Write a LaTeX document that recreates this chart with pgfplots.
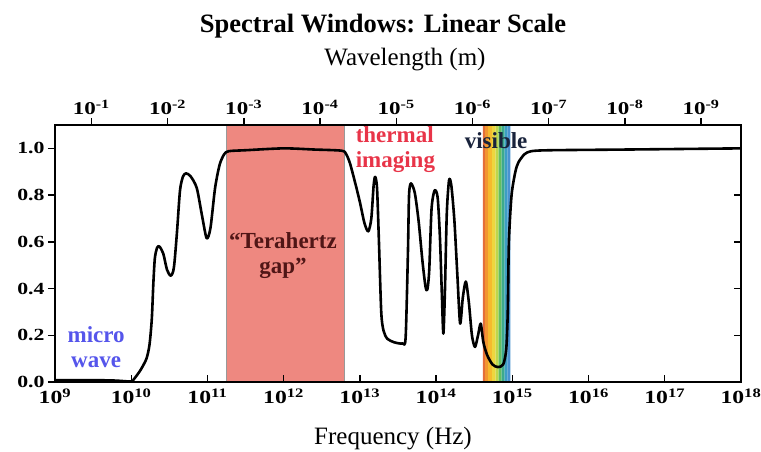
\documentclass[border=0pt]{standalone}
\usepackage{pgfplots}
\pgfplotsset{compat=1.18}
\usepackage{graphicx}
\usepackage{fontspec}
\setmainfont{Liberation Serif}
\definecolor{thz}{RGB}{238,136,128}
\definecolor{mwblue}{RGB}{85,85,235}
\definecolor{thzlab}{RGB}{80,22,22}
\definecolor{thred}{RGB}{232,52,72}
\definecolor{visnavy}{RGB}{25,35,60}
\definecolor{v1}{RGB}{228,110,58}
\definecolor{v2}{RGB}{242,150,48}
\definecolor{v3}{RGB}{245,186,46}
\definecolor{v4}{RGB}{238,214,62}
\definecolor{v5}{RGB}{190,214,76}
\definecolor{v6}{RGB}{100,190,96}
\definecolor{v7}{RGB}{60,170,140}
\definecolor{v8}{RGB}{60,158,196}
\definecolor{v9}{RGB}{74,146,208}
\newcommand\ticklab[1]{\scalebox{1.28}[1]{\bfseries #1}}
\newcommand\annfont{\fontsize{23bp}{25bp}\selectfont\rmfamily\bfseries}
\begin{document}
\begin{tikzpicture}
\useasboundingbox (-55bp,-70bp) rectangle (706bp,382bp);
\begin{axis}[
  scale only axis, width=686bp, height=257bp,
  xmin=9, xmax=18, ymin=0, ymax=1.1,
  axis on top,
  axis line style={line width=1.4bp},
  tick style={line width=1.4bp, black},
  major tick length=7bp,
  tick align=inside,
  xtick pos=left, ytick pos=right,
  xtick={9,...,18},
  xticklabels={\ticklab{10\textsuperscript{9}},\ticklab{10\textsuperscript{10}},\ticklab{10\textsuperscript{11}},\ticklab{10\textsuperscript{12}},\ticklab{10\textsuperscript{13}},\ticklab{10\textsuperscript{14}},\ticklab{10\textsuperscript{15}},\ticklab{10\textsuperscript{16}},\ticklab{10\textsuperscript{17}},\ticklab{10\textsuperscript{18}}},
  xticklabel style={font=\fontsize{18.5bp}{20bp}\selectfont, yshift=-3bp},
  ytick={0,0.2,0.4,0.6,0.8,1.0},
  yticklabels={},
  clip=false,
]
% Terahertz gap
\addplot[fill=thz, draw=gray!80, line width=0.8bp] coordinates {(11.244,0) (11.244,1.1) (12.797,1.1) (12.797,0)} \closedcycle;
% visible band strips
\addplot[fill=v1, draw=none] coordinates {(14.613,0) (14.613,1.1) (14.645,1.1) (14.645,0)} \closedcycle;
\addplot[fill=v2, draw=none] coordinates {(14.644,0) (14.644,1.1) (14.683,1.1) (14.683,0)} \closedcycle;
\addplot[fill=v3, draw=none] coordinates {(14.682,0) (14.682,1.1) (14.736,1.1) (14.736,0)} \closedcycle;
\addplot[fill=v4, draw=none] coordinates {(14.735,0) (14.735,1.1) (14.782,1.1) (14.782,0)} \closedcycle;
\addplot[fill=v5, draw=none] coordinates {(14.781,0) (14.781,1.1) (14.821,1.1) (14.821,0)} \closedcycle;
\addplot[fill=v6, draw=none] coordinates {(14.820,0) (14.820,1.1) (14.861,1.1) (14.861,0)} \closedcycle;
\addplot[fill=v7, draw=none] coordinates {(14.860,0) (14.860,1.1) (14.900,1.1) (14.900,0)} \closedcycle;
\addplot[fill=v8, draw=none] coordinates {(14.899,0) (14.899,1.1) (14.939,1.1) (14.939,0)} \closedcycle;
\addplot[fill=v9, draw=none] coordinates {(14.938,0) (14.938,1.1) (14.975,1.1) (14.975,0)} \closedcycle;
% transmission curve (x = log10 of frequency in Hz)
\addplot[black, line width=2.6bp, smooth, tension=0.45, line join=round] coordinates {
(9.0,0.008) (9.5,0.008) (9.8,0.006) (10.0,0.002) (10.03,0.01) (10.12,0.05)
(10.2,0.10) (10.24,0.16) (10.27,0.27) (10.29,0.42) (10.31,0.53) (10.34,0.575)
(10.37,0.58) (10.42,0.55) (10.47,0.48) (10.52,0.455) (10.56,0.49) (10.60,0.64)
(10.64,0.82) (10.68,0.88) (10.72,0.893) (10.78,0.88) (10.86,0.83) (10.93,0.71)
(10.99,0.615) (11.04,0.66) (11.10,0.83) (11.16,0.93) (11.22,0.975) (11.28,0.988)
(11.5,0.992) (12.0,1.0) (12.4,0.995) (12.76,0.99) (12.82,0.975) (12.87,0.936)
(12.94,0.85) (13.0,0.77) (13.06,0.68) (13.11,0.645) (13.15,0.70) (13.18,0.84)
(13.20,0.878) (13.225,0.83) (13.25,0.60) (13.28,0.30) (13.31,0.22) (13.36,0.185)
(13.45,0.17) (13.56,0.165) (13.60,0.19) (13.63,0.55) (13.645,0.80) (13.67,0.85)
(13.72,0.81) (13.77,0.69) (13.82,0.52) (13.86,0.41) (13.885,0.395) (13.91,0.48)
(13.94,0.74) (13.98,0.82) (14.02,0.79) (14.05,0.62) (14.075,0.38) (14.095,0.207)
(14.115,0.38) (14.14,0.72) (14.17,0.864) (14.2,0.84) (14.24,0.69) (14.28,0.45)
(14.315,0.25) (14.35,0.36) (14.39,0.43) (14.43,0.34) (14.47,0.20) (14.51,0.15)
(14.55,0.20) (14.585,0.25) (14.62,0.17) (14.67,0.115) (14.74,0.075) (14.81,0.064)
(14.88,0.075) (14.92,0.14) (14.94,0.30) (14.955,0.60) (14.99,0.80) (15.04,0.90)
(15.08,0.94) (15.16,0.975) (15.25,0.988) (15.5,0.992) (16.5,0.995) (18.0,1.0)
};
\node[text=mwblue, align=center, font=\annfont] at (axis cs:9.54,0.148) {micro\\wave};
\node[text=thzlab, align=center, font=\annfont] at (axis cs:11.99,0.543) {“Terahertz\\gap”};
\node[text=thred, align=left, anchor=west, font=\annfont] at (axis cs:12.90,0.995) {thermal\\imaging};
\node[text=visnavy, font=\annfont] at (axis cs:14.787,1.035) {visible};
\end{axis}
\begin{axis}[
  scale only axis, width=686bp, height=257bp,
  xmin=9, xmax=18, ymin=0, ymax=1.1,
  axis line style={line width=1.4bp},
  tick style={line width=1.4bp, black},
  major tick length=7bp,
  tick align=outside,
  xtick pos=right, xticklabel pos=right,
  ytick pos=left, yticklabel pos=left,
  xtick={9.477,10.477,11.477,12.477,13.477,14.477,15.477,16.477,17.477},
  xticklabels={\ticklab{10\textsuperscript{-1}},\ticklab{10\textsuperscript{-2}},\ticklab{10\textsuperscript{-3}},\ticklab{10\textsuperscript{-4}},\ticklab{10\textsuperscript{-5}},\ticklab{10\textsuperscript{-6}},\ticklab{10\textsuperscript{-7}},\ticklab{10\textsuperscript{-8}},\ticklab{10\textsuperscript{-9}}},
  xticklabel style={font=\fontsize{18bp}{20bp}\selectfont},
  ytick={0,0.2,0.4,0.6,0.8,1.0},
  yticklabels={\ticklab{0.0},\ticklab{0.2},\ticklab{0.4},\ticklab{0.6},\ticklab{0.8},\ticklab{1.0}},
  yticklabel style={font=\fontsize{17bp}{19bp}\selectfont},
]
\end{axis}
\node[anchor=base, font=\fontsize{26.5bp}{30bp}\selectfont\bfseries] at (328bp,349bp) {Spectral Windows: Linear Scale};
\node[anchor=base, font=\fontsize{25bp}{28bp}\selectfont] at (350bp,316bp) {Wavelength (m)};
\node[anchor=base, font=\fontsize{25bp}{28bp}\selectfont] at (338bp,-62bp) {Frequency (Hz)};
\end{tikzpicture}
\end{document}
